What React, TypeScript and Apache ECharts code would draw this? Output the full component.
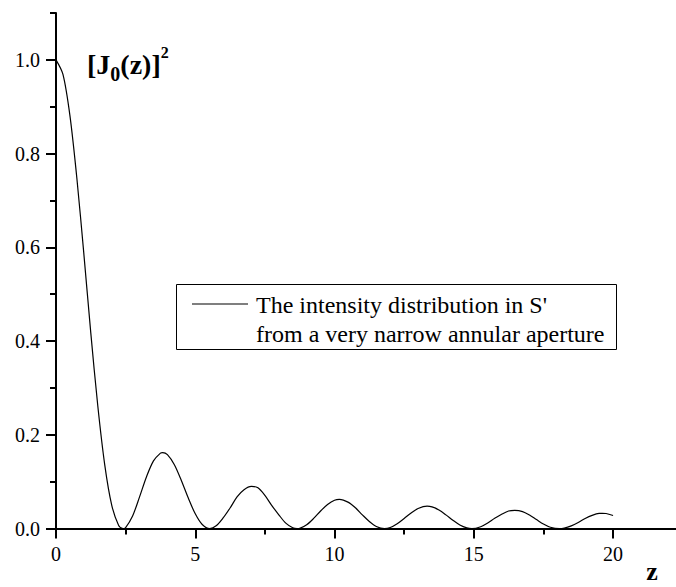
import React, { useEffect, useRef } from "react";
import * as echarts from "echarts";

// Sample points of the intensity curve [J0(z)]^2, with the zeros and maxima included
const zValues = [
  0, 0.25, 0.5, 0.75, 1.0, 1.25, 1.5, 1.75, 2.0, 2.25, 2.405, 2.5, 2.75, 3.0, 3.25, 3.5, 3.75,
  3.832, 4.0, 4.25, 4.5, 4.75, 5.0, 5.25, 5.52, 5.75, 6.0, 6.25, 6.5, 6.75, 7.016, 7.25, 7.5,
  7.75, 8.0, 8.25, 8.5, 8.654, 8.75, 9.0, 9.25, 9.5, 9.75, 10.0, 10.173, 10.5, 10.75, 11.0,
  11.25, 11.5, 11.792, 12.0, 12.25, 12.5, 12.75, 13.0, 13.324, 13.5, 13.75, 14.0, 14.25, 14.5,
  14.75, 14.931, 15.25, 15.5, 15.75, 16.0, 16.25, 16.471, 16.75, 17.0, 17.25, 17.5, 17.75,
  18.071, 18.25, 18.5, 18.75, 19.0, 19.25, 19.5, 19.616, 19.75, 20.0,
];
const intensity = [
  1.0, 0.969, 0.881, 0.747, 0.586, 0.417, 0.262, 0.136, 0.0501, 0.0068, 0, 0.0023, 0.0269,
  0.0677, 0.1108, 0.1445, 0.1611, 0.1622, 0.1577, 0.1363, 0.1027, 0.0651, 0.0315, 0.0087, 0,
  0.0059, 0.0227, 0.044, 0.0677, 0.0831, 0.0901, 0.0871, 0.0709, 0.0491, 0.0295, 0.0116,
  0.0018, 0, 0.0005, 0.0082, 0.0217, 0.0376, 0.0513, 0.0605, 0.0624, 0.056, 0.0444, 0.0293,
  0.0152, 0.0046, 0, 0.0023, 0.0104, 0.0216, 0.0334, 0.0428, 0.0478, 0.0462, 0.0396, 0.0293,
  0.0178, 0.0077, 0.0015, 0, 0.004, 0.0119, 0.022, 0.0306, 0.0376, 0.0387, 0.0363, 0.0289,
  0.0193, 0.0098, 0.0029, 0, 0.0012, 0.0059, 0.013, 0.0216, 0.0282, 0.0323, 0.0325, 0.0322,
  0.0279,
];

const xMajorTicks = [0, 5, 10, 15, 20];
const xMinorTicks = [2.5, 7.5, 12.5, 17.5];
const yMajorTicks = [0, 0.2, 0.4, 0.6, 0.8, 1.0];
const yMinorTicks = [0.1, 0.3, 0.5, 0.7, 0.9, 1.1];
const legendLines = ["The intensity distribution in S'", "from a very narrow annular aperture"];

const X_MAX = 22.26;
const Y_MAX = 1.1;
const FONT = "Liberation Serif";

export default function App() {
  const ref = useRef<HTMLDivElement>(null);

  useEffect(() => {
    if (!ref.current) return;
    const chart = echarts.init(ref.current, undefined, { renderer: "svg" });

    const points = zValues.map((z, i) => [z, intensity[i]]);

    const axisLine = { show: true, onZero: false, lineStyle: { color: "#000", width: 2 } };

    chart.setOption({
      animation: false,
      backgroundColor: "#fff",
      textStyle: { fontFamily: FONT },
      grid: { left: 56, right: 0, top: 13, bottom: 58.4, containLabel: false },
      xAxis: [
        {
          type: "value",
          min: 0,
          max: X_MAX,
          position: "bottom",
          axisLine,
          axisTick: {
            show: true,
            length: 10,
            customValues: xMajorTicks,
            lineStyle: { color: "#000", width: 2 },
          },
          axisLabel: {
            show: true,
            customValues: xMajorTicks,
            margin: 15,
            color: "#000",
            fontFamily: FONT,
            fontSize: 20,
            formatter: (v: number) => String(v),
          },
          splitLine: { show: false },
        },
        {
          type: "value",
          min: 0,
          max: X_MAX,
          position: "bottom",
          axisLine: { show: false },
          axisTick: {
            show: true,
            length: 6,
            customValues: xMinorTicks,
            lineStyle: { color: "#000", width: 2 },
          },
          axisLabel: { show: false },
          splitLine: { show: false },
        },
      ],
      yAxis: [
        {
          type: "value",
          min: 0,
          max: Y_MAX,
          position: "left",
          axisLine,
          axisTick: {
            show: true,
            length: 10,
            customValues: yMajorTicks,
            lineStyle: { color: "#000", width: 2 },
          },
          axisLabel: {
            show: true,
            customValues: yMajorTicks,
            margin: 16,
            color: "#000",
            fontFamily: FONT,
            fontSize: 20,
            formatter: (v: number) => v.toFixed(1),
          },
          splitLine: { show: false },
        },
        {
          type: "value",
          min: 0,
          max: Y_MAX,
          position: "left",
          axisLine: { show: false },
          axisTick: {
            show: true,
            length: 6,
            customValues: yMinorTicks,
            lineStyle: { color: "#000", width: 2 },
          },
          axisLabel: { show: false },
          splitLine: { show: false },
        },
      ],
      series: [
        {
          type: "line",
          name: legendLines.join(" "),
          xAxisIndex: 0,
          yAxisIndex: 0,
          data: points,
          smooth: 0.3,
          showSymbol: false,
          lineStyle: { color: "#000", width: 1.2 },
        },
      ],
      graphic: [
        {
          type: "rect",
          shape: { x: 176.5, y: 284.5, width: 440, height: 65 },
          style: { fill: "#fff", stroke: "#000", lineWidth: 1 },
          z: 10,
        },
        {
          type: "line",
          shape: { x1: 192, y1: 304, x2: 248, y2: 304 },
          style: { stroke: "#555", lineWidth: 1.5 },
          z: 11,
        },
        {
          type: "text",
          x: 256,
          y: 305,
          z: 11,
          style: {
            text: legendLines[0],
            fontFamily: FONT,
            fontSize: 24,
            fill: "#000",
            align: "left",
            verticalAlign: "middle",
          },
        },
        {
          type: "text",
          x: 256,
          y: 334,
          z: 11,
          style: {
            text: legendLines[1],
            fontFamily: FONT,
            fontSize: 24,
            fill: "#000",
            align: "left",
            verticalAlign: "middle",
          },
        },
        {
          type: "text",
          x: 87,
          y: 64,
          z: 11,
          style: {
            text: "{m|[J}{s|0}{m|(z)]}{p|2}",
            fill: "#000",
            align: "left",
            verticalAlign: "middle",
            rich: {
              m: { fontFamily: FONT, fontSize: 28, fontWeight: "bold", lineHeight: 40 },
              s: {
                fontFamily: FONT,
                fontSize: 20,
                fontWeight: "bold",
                lineHeight: 20,
                verticalAlign: "bottom",
              },
              p: {
                fontFamily: FONT,
                fontSize: 16,
                fontWeight: "bold",
                lineHeight: 16,
                verticalAlign: "top",
              },
            },
          },
        },
        {
          type: "text",
          x: 652,
          y: 571,
          z: 11,
          style: {
            text: "z",
            fontFamily: FONT,
            fontSize: 26,
            fontWeight: "bold",
            fill: "#000",
            align: "center",
            verticalAlign: "middle",
          },
        },
      ],
    });

    return () => chart.dispose();
  }, []);

  return (
    <div
      ref={ref}
      style={{ position: "fixed", left: 0, top: 0, width: 676, height: 587, background: "#fff" }}
    />
  );
}
